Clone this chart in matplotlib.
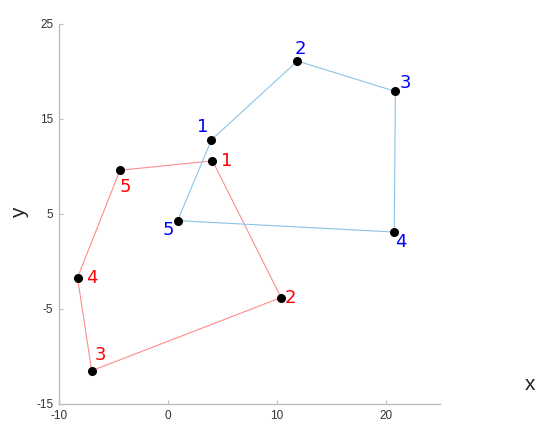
import matplotlib
matplotlib.use("Agg")
import matplotlib.pyplot as plt

plt.rcParams['axes.unicode_minus'] = False

# polygon vertices
red_x = [4.1, 10.4, -7.0, -8.3, -4.4]
red_y = [10.6, -3.8, -11.5, -1.7, 9.6]
blue_x = [4.0, 11.9, 20.9, 20.8, 0.9]
blue_y = [12.8, 21.1, 17.9, 3.1, 4.3]
vertex_labels = ['1', '2', '3', '4', '5']

# label offsets in points (roughly where the numbers sit around each point)
red_offsets = [(10, 0), (7, 0), (6, 11), (10, 0), (4, -12)]
blue_offsets = [(-6, 9), (2, 9), (7, 6), (5, -7), (-7, -7)]

xticks = [-10, 0, 10, 20]
yticks = [-15, -5, 5, 15, 25]

fig = plt.figure(figsize=(5.5, 4.36), dpi=100)
ax = fig.add_axes([0.1073, 0.0734, 0.6927, 0.8716])

# closed polygons
ax.plot(red_x + red_x[:1], red_y + red_y[:1], color='#ff8c8c', lw=0.8, zorder=1)
ax.plot(blue_x + blue_x[:1], blue_y + blue_y[:1], color='#8cc4e6', lw=0.8, zorder=1)
ax.plot(red_x, red_y, 'o', color='black', ms=5.5, zorder=3)
ax.plot(blue_x, blue_y, 'o', color='black', ms=5.5, zorder=3)

for xs, ys, offs, col in [(red_x, red_y, red_offsets, 'red'),
                          (blue_x, blue_y, blue_offsets, 'blue')]:
    for lab, x, y, off in zip(vertex_labels, xs, ys, offs):
        ax.annotate(lab, (x, y), xytext=off, textcoords='offset points',
                    ha='center', va='center', color=col, fontsize=13,
                    family='DejaVu Sans')

ax.set_xlim(-10, 25)
ax.set_ylim(-15, 25)
ax.set_xticks(xticks)
ax.set_yticks(yticks)
for side in ['top', 'right']:
    ax.spines[side].set_visible(False)
for side in ['left', 'bottom']:
    ax.spines[side].set_color('#bdbdbd')
    ax.spines[side].set_linewidth(1.0)
ax.tick_params(direction='in', length=3, color='#bdbdbd', labelsize=8.5,
               labelcolor='#333333', pad=4)
for t in ax.get_xticklabels() + ax.get_yticklabels():
    t.set_family('Liberation Sans')

fig.text(0.9636, 0.119, 'x', fontsize=15, ha='center', va='center',
         family='Liberation Sans', color='#222222')
fig.text(0.036, 0.511, 'y', fontsize=15, ha='center', va='center',
         rotation=90, family='Liberation Sans', color='#222222')

fig.savefig('out.png', dpi=100)
